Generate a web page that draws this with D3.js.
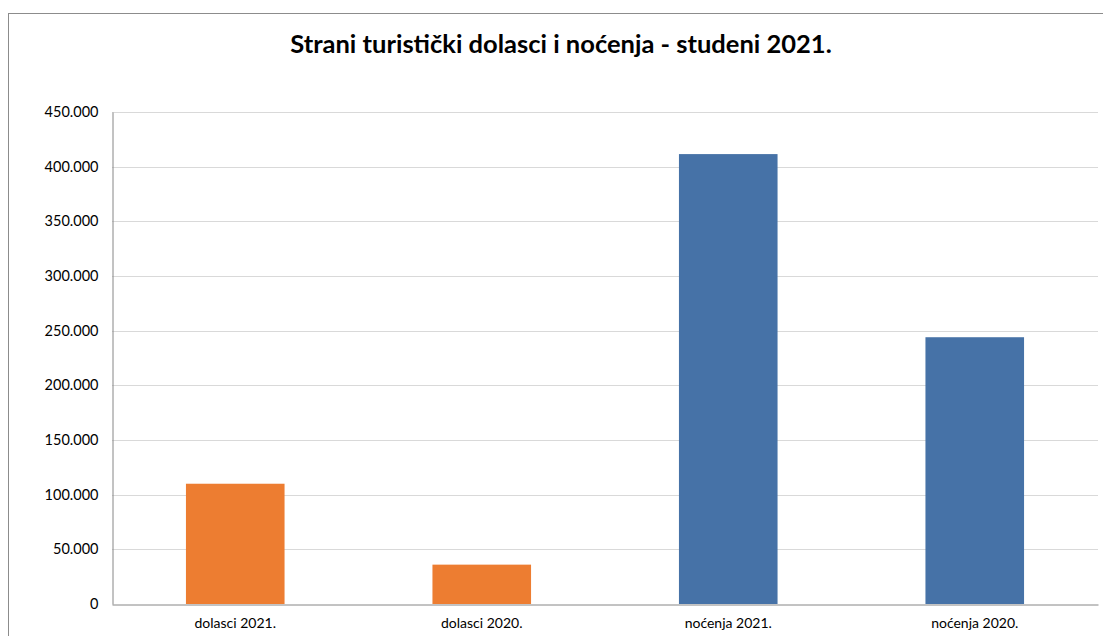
<!DOCTYPE html>
<html>
<head>
<meta charset="utf-8">
<script src="https://cdn.jsdelivr.net/npm/d3@7"></script>
<style>
  body { margin: 0; background: #fff; }
  svg { display: block; }
</style>
</head>
<body>
<div id="chart"></div>
<script>
// chart values
var categories = ["dolasci 2021.", "dolasci 2020.", "noćenja 2021.", "noćenja 2020."];
var values = [110000, 36000, 411500, 244000];
var barColors = ["#ED7D31", "#ED7D31", "#4672A7", "#4672A7"];
var yTicks = [0, 50000, 100000, 150000, 200000, 250000, 300000, 350000, 400000, 450000];
var title = "Strani turistički dolasci i noćenja - studeni 2021.";

var width = 1103,
    height = 636;

var svg = d3.select("#chart").append("svg")
    .attr("width", width)
    .attr("height", height)
    .style("font-family", "Lato, 'Open Sans', sans-serif");

// outer chart frame (runs off the right and bottom edge)
svg.append("rect")
    .attr("x", 8.5)
    .attr("y", 13.5)
    .attr("width", width + 20)
    .attr("height", height + 20)
    .style("fill", "#fff")
    .style("stroke", "#8c8c8c")
    .style("stroke-width", 1);

svg.append("text")
    .attr("x", 561)
    .attr("y", 53)
    .attr("text-anchor", "middle")
    .style("font-size", "25.5px")
    .style("font-weight", "bold")
    .style("fill", "#000")
    .text(title);

var plotLeft = 112, plotRight = 1098, plotTop = 112, plotBottom = 604;

var x = d3.scaleBand()
    .domain(categories)
    .range([plotLeft, plotRight])
    .paddingInner(0.6)
    .paddingOuter(0.3);

var y = d3.scaleLinear()
    .domain([0, 450000])
    .range([plotBottom, plotTop]);

var fmt = function(d) { return d === 0 ? "0" : d3.format(",")(d).replace(/,/g, "."); };

// gridlines
svg.append("g")
    .attr("class", "grid")
    .selectAll("line")
    .data(yTicks.filter(function(d) { return d > 0; }))
    .enter()
    .append("line")
    .attr("x1", plotLeft)
    .attr("x2", plotRight)
    .attr("y1", function(d) { return Math.round(y(d)) + 0.5; })
    .attr("y2", function(d) { return Math.round(y(d)) + 0.5; })
    .style("stroke", "#d9d9d9")
    .style("stroke-width", 1);

// bars
svg.append("g")
    .attr("class", "bars")
    .selectAll("rect")
    .data(values)
    .enter()
    .append("rect")
    .attr("x", function(d, i) { return x(categories[i]); })
    .attr("y", function(d) { return y(d); })
    .attr("width", x.bandwidth())
    .attr("height", function(d) { return plotBottom - y(d); })
    .style("fill", function(d, i) { return barColors[i]; });

// y axis
var yAxis = svg.append("g")
    .attr("transform", "translate(" + (plotLeft + 0.5) + ",0)")
    .call(d3.axisLeft(y).tickValues(yTicks).tickFormat(fmt).tickSize(0).tickPadding(14));
yAxis.select(".domain").style("stroke", "#868686");
yAxis.selectAll("text")
    .style("font-family", "Lato, 'Open Sans', sans-serif")
    .style("font-size", "14.5px")
    .style("fill", "#000");

// x axis
var xAxis = svg.append("g")
    .attr("transform", "translate(0," + (plotBottom + 0.5) + ")")
    .call(d3.axisBottom(x).tickSize(0).tickPadding(14));
xAxis.select(".domain").style("stroke", "#868686");
xAxis.selectAll("text")
    .style("font-family", "Lato, 'Open Sans', sans-serif")
    .style("font-size", "14px")
    .style("fill", "#000");
</script>
</body>
</html>
